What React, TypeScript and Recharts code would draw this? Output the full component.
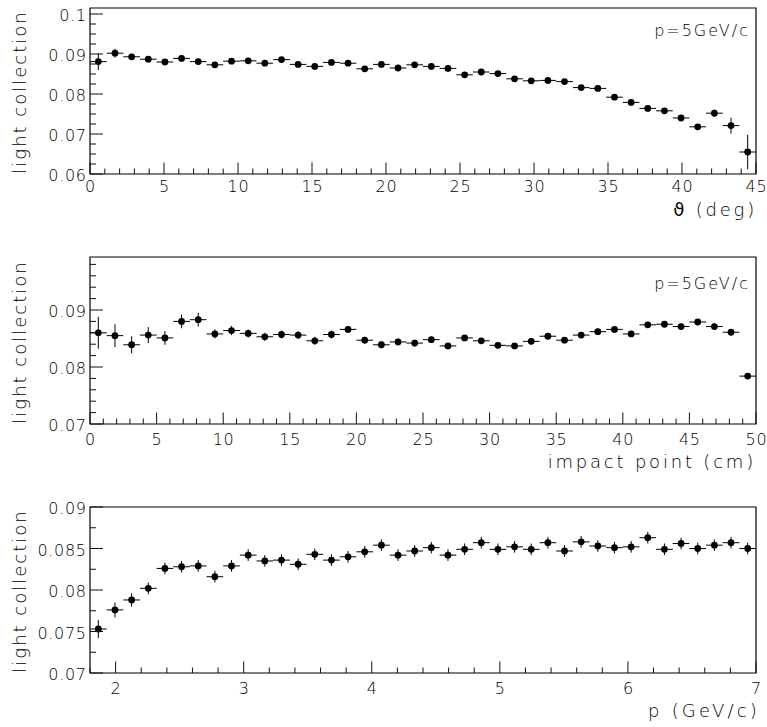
import React from 'react';
import { ScatterChart, Scatter, XAxis, YAxis, ErrorBar, ReferenceArea } from 'recharts';

const FONT = '"DejaVu Sans", "Liberation Sans", sans-serif';

// light collection vs polar angle (p = 5 GeV/c), 40 bins over 0..45 deg
const THETA_RANGE: [number, number] = [0, 45];
const THETA_LC = [
  0.0881, 0.0902, 0.0893, 0.0887, 0.088, 0.0889, 0.0881, 0.0873, 0.0882, 0.0883,
  0.0877, 0.0886, 0.0874, 0.0869, 0.0879, 0.0877, 0.0863, 0.0874, 0.0865, 0.0873,
  0.0869, 0.0864, 0.0848, 0.0855, 0.0851, 0.0838, 0.0833, 0.0834, 0.0831, 0.0816,
  0.0814, 0.0792, 0.0779, 0.0764, 0.0758, 0.074, 0.0718, 0.0752, 0.0721, 0.0655,
];
const THETA_ERR = [
  0.0021, 0.0011, 0.0006, 0.0005, 0.0005, 0.0005, 0.0005, 0.0005, 0.0005, 0.0005,
  0.0005, 0.0005, 0.0005, 0.0005, 0.0005, 0.0005, 0.0005, 0.0005, 0.0005, 0.0005,
  0.0005, 0.0005, 0.0005, 0.0005, 0.0005, 0.0005, 0.0005, 0.0005, 0.0005, 0.0005,
  0.0005, 0.0005, 0.0005, 0.0005, 0.0006, 0.0006, 0.0007, 0.0009, 0.002, 0.0043,
];
const THETA_X_LABELS = ['0', '5', '10', '15', '20', '25', '30', '35', '40', '45'];
const THETA_Y_LABELS = ['0.06', '0.07', '0.08', '0.09', '0.1'];

// light collection vs impact point (p = 5 GeV/c), 40 bins over 0..50 cm
const IMPACT_RANGE: [number, number] = [0, 50];
const IMPACT_LC = [
  0.086, 0.0855, 0.0839, 0.0856, 0.0851, 0.088, 0.0883, 0.0858, 0.0864, 0.0859,
  0.0853, 0.0857, 0.0856, 0.0846, 0.0857, 0.0866, 0.0847, 0.0839, 0.0844, 0.0842,
  0.0848, 0.0837, 0.0851, 0.0846, 0.0838, 0.0837, 0.0845, 0.0854, 0.0847, 0.0856,
  0.0862, 0.0866, 0.0858, 0.0874, 0.0875, 0.0871, 0.0879, 0.0871, 0.0861, 0.0784,
];
const IMPACT_ERR = [
  0.0028, 0.002, 0.0015, 0.0014, 0.0012, 0.0012, 0.0012, 0.0008, 0.0008, 0.0007,
  0.0007, 0.0007, 0.0007, 0.0007, 0.0007, 0.0006, 0.0006, 0.0006, 0.0006, 0.0006,
  0.0005, 0.0005, 0.0005, 0.0005, 0.0005, 0.0005, 0.0005, 0.0005, 0.0005, 0.0005,
  0.0005, 0.0005, 0.0005, 0.0005, 0.0005, 0.0005, 0.0005, 0.0005, 0.0005, 0.0004,
];
const IMPACT_X_LABELS = ['0', '5', '10', '15', '20', '25', '30', '35', '40', '45', '50'];
const IMPACT_Y_LABELS = ['0.07', '0.08', '0.09'];

// light collection vs momentum, 40 bins over 1.8..7 GeV/c
const P_RANGE: [number, number] = [1.8, 7];
const P_LC = [
  0.0753, 0.0776, 0.0788, 0.0802, 0.0826, 0.0828, 0.0829, 0.0816, 0.0829, 0.0842,
  0.0835, 0.0836, 0.0831, 0.0843, 0.0836, 0.084, 0.0846, 0.0854, 0.0842, 0.0847,
  0.0851, 0.0842, 0.0849, 0.0857, 0.0849, 0.0852, 0.0849, 0.0857, 0.0847, 0.0858,
  0.0853, 0.0851, 0.0852, 0.0863, 0.0849, 0.0856, 0.085, 0.0854, 0.0857, 0.085,
];
const P_ERR = [
  0.0011, 0.0009, 0.0008, 0.0007, 0.0007, 0.0007, 0.0007, 0.0007, 0.0007, 0.0007,
  0.0007, 0.0007, 0.0007, 0.0007, 0.0007, 0.0007, 0.0007, 0.0007, 0.0007, 0.0007,
  0.0007, 0.0007, 0.0007, 0.0007, 0.0007, 0.0007, 0.0007, 0.0007, 0.0007, 0.0007,
  0.0007, 0.0007, 0.0007, 0.0007, 0.0007, 0.0007, 0.0007, 0.0007, 0.0007, 0.0007,
];
const P_X_LABELS = ['2', '3', '4', '5', '6', '7'];
const P_Y_LABELS = ['0.07', '0.075', '0.08', '0.085', '0.09'];

interface Bin {
  x: number;
  y: number;
  ex: number;
  ey: number;
}

// histogram bins -> points with half-bin-width x errors
const toBins = (range: [number, number], values: number[], errors: number[]): Bin[] => {
  const w = (range[1] - range[0]) / values.length;
  return values.map((y, i) => ({ x: range[0] + (i + 0.5) * w, y, ex: w / 2, ey: errors[i] }));
};

const minorTicks = (lo: number, hi: number, step: number) => {
  const out: number[] = [];
  for (let k = Math.ceil(lo / step - 1e-9); k * step <= hi + 1e-9; k++) {
    out.push(Math.round(k * step * 1e6) / 1e6);
  }
  return out;
};

const majorLabel = (v: number, labels: string[]) =>
  labels.find((m) => Math.abs(Number(m) - v) < 1e-7);

const tickText = { fontFamily: FONT, fontSize: 16, fontWeight: 200, letterSpacing: 0.7, fill: '#000' };

interface PanelProps {
  top: number;
  height: number;
  plotTop: number;
  plotHeight: number;
  data: Bin[];
  xDomain: [number, number];
  yDomain: [number, number];
  xLabels: string[];
  xStep: number;
  yLabels: string[];
  yStep: number;
  xLabelDy: number;
}

const Panel = ({ top, height, plotTop, plotHeight, data, xDomain, yDomain, xLabels, xStep, yLabels, yStep, xLabelDy }: PanelProps) => {
  // ticks point into the frame, labels only on the majors
  const renderXTick = (p: any) => {
    const label = majorLabel(p.payload.value, xLabels);
    return (
      <g>
        <line x1={p.x} x2={p.x} y1={p.y} y2={p.y - (label ? 11.5 : 5.5)} stroke="#111" strokeWidth={1} />
        {label && (
          <text x={p.x + 0.4} y={p.y + xLabelDy} textAnchor="middle" style={tickText}>
            {label}
          </text>
        )}
      </g>
    );
  };

  const renderYTick = (p: any) => {
    const label = majorLabel(p.payload.value, yLabels);
    return (
      <g>
        <line x1={p.x} x2={p.x + (label ? 13 : 6)} y1={p.y} y2={p.y} stroke="#111" strokeWidth={1} />
        {label && (
          <text x={p.x - 3.3} y={p.y + 7} textAnchor="end" style={tickText}>
            {label}
          </text>
        )}
      </g>
    );
  };

  return (
    <div style={{ position: 'absolute', left: 0, top, width: 767, height }}>
      <ScatterChart width={767} height={height} margin={{ top: plotTop, right: 11, bottom: 0, left: 0 }}>
        <XAxis
          type="number"
          dataKey="x"
          domain={xDomain}
          allowDataOverflow
          ticks={minorTicks(xDomain[0], xDomain[1], xStep)}
          interval={0}
          tickSize={0}
          tickMargin={0}
          axisLine={false}
          tickLine={false}
          tick={renderXTick}
          height={height - plotTop - plotHeight}
        />
        <YAxis
          type="number"
          dataKey="y"
          domain={yDomain}
          allowDataOverflow
          ticks={minorTicks(yDomain[0], yDomain[1], yStep)}
          interval={0}
          tickSize={0}
          tickMargin={0}
          axisLine={false}
          tickLine={false}
          tick={renderYTick}
          width={90}
        />
        <ReferenceArea
          x1={xDomain[0]}
          x2={xDomain[1]}
          y1={yDomain[0]}
          y2={yDomain[1]}
          fill="none"
          stroke="#000"
          strokeWidth={1.2}
          ifOverflow="visible"
        />
        <Scatter
          data={data}
          isAnimationActive={false}
          shape={(s: any) => <circle cx={s.cx} cy={s.cy} r={3.4} fill="#000" />}
        >
          <ErrorBar dataKey="ey" direction="y" width={0} stroke="#000" strokeWidth={1} isAnimationActive={false} />
          <ErrorBar dataKey="ex" direction="x" width={0} stroke="#000" strokeWidth={1} isAnimationActive={false} />
        </Scatter>
      </ScatterChart>
    </div>
  );
};

const titleText = { fontFamily: FONT, fontSize: 18, fontWeight: 200, fill: '#000' };
const noteText = { fontFamily: FONT, fontSize: 16, fontWeight: 200, letterSpacing: 2, fill: '#000' };

export default function App() {
  return (
    <div style={{ position: 'absolute', left: 0, top: 0, width: 767, height: 727, background: '#fff' }}>
      <Panel
        top={0}
        height={230}
        plotTop={8}
        plotHeight={166}
        data={toBins(THETA_RANGE, THETA_LC, THETA_ERR)}
        xDomain={THETA_RANGE}
        yDomain={[0.06, 0.1015]}
        xLabels={THETA_X_LABELS}
        xStep={1}
        yLabels={THETA_Y_LABELS}
        yStep={0.0025}
        xLabelDy={18}
      />
      <Panel
        top={230}
        height={240}
        plotTop={27}
        plotHeight={167}
        data={toBins(IMPACT_RANGE, IMPACT_LC, IMPACT_ERR)}
        xDomain={IMPACT_RANGE}
        yDomain={[0.07, 0.0993]}
        xLabels={IMPACT_X_LABELS}
        xStep={1}
        yLabels={IMPACT_Y_LABELS}
        yStep={0.002}
        xLabelDy={21}
      />
      <Panel
        top={470}
        height={257}
        plotTop={37}
        plotHeight={166}
        data={toBins(P_RANGE, P_LC, P_ERR)}
        xDomain={P_RANGE}
        yDomain={[0.07, 0.09]}
        xLabels={P_X_LABELS}
        xStep={0.2}
        yLabels={P_Y_LABELS}
        yStep={0.0025}
        xLabelDy={21}
      />
      {/* axis titles and annotations */}
      <svg width={767} height={727} style={{ position: 'absolute', left: 0, top: 0, pointerEvents: 'none' }}>
        <text transform="translate(26, 92) rotate(-90)" textAnchor="middle" style={{ ...titleText, letterSpacing: 2 }}>
          light collection
        </text>
        <text transform="translate(26, 342) rotate(-90)" textAnchor="middle" style={{ ...titleText, letterSpacing: 2 }}>
          light collection
        </text>
        <text transform="translate(26, 591) rotate(-90)" textAnchor="middle" style={{ ...titleText, letterSpacing: 2 }}>
          light collection
        </text>
        <text x={757} y={216} textAnchor="end" style={{ ...titleText, letterSpacing: 2.8 }}>
          <tspan style={{ fontWeight: 400, fontFamily: '"DejaVu Sans"' }}>ϑ</tspan> (deg)
        </text>
        <text x={756} y={468} textAnchor="end" style={{ ...titleText, letterSpacing: 2.8 }}>
          impact point (cm)
        </text>
        <text x={760} y={717} textAnchor="end" style={{ ...titleText, letterSpacing: 3.2 }}>
          p (GeV/c)
        </text>
        <text x={750} y={35.5} textAnchor="end" style={noteText}>
          p=5GeV/c
        </text>
        <text x={750} y={289} textAnchor="end" style={noteText}>
          p=5GeV/c
        </text>
      </svg>
    </div>
  );
}
